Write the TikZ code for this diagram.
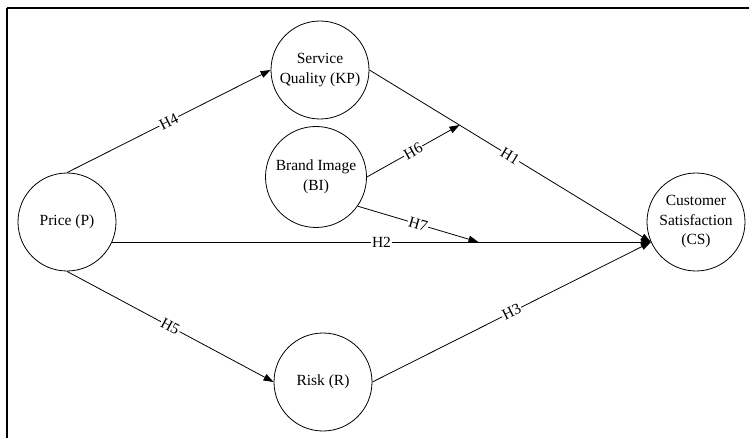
\documentclass[tikz,border=0pt]{standalone}
\usepackage{fontspec}
\setmainfont{Liberation Serif}
\usetikzlibrary{arrows.meta, calc}

\tikzset{
  construct/.style={draw, circle, line width=0.8pt, minimum size=98pt, inner sep=0pt, align=center, font=\fontsize{15.5}{19.5}\selectfont},
  path arrow/.style={line width=0.8pt, -{Triangle[length=10pt,width=7pt]}},
  hyp/.style={midway, sloped, fill=white, inner sep=1pt, font=\fontsize{15.5}{19.5}\selectfont}
}

\begin{document}
\begin{tikzpicture}[x=1pt,y=-1pt]
    \useasboundingbox (0,0) rectangle (749,438); %same size as the reference

    %Frame (top and left edge only)
    \draw [line width=2pt] (7,8) -- (749,8);
    \draw [line width=1.2pt] (7,8) -- (7,438);

    %Shape: Circles
    \node [construct] (P) at (67,222) {Price (P)};
    \node [construct] (KP) at (320,70) {Service\\Quality (KP)};
    \node [construct, minimum size=101pt] (BI) at (316,177) {Brand Image\\(BI)};
    \node [construct] (R) at (323,382) {Risk (R)};
    \node [construct] (CS) at (696,222) {Customer\\Satisfaction\\(CS)};

    %Points where the moderating arrows end
    \coordinate (csin) at (CS.204);
    \coordinate (pout) at (P.336);
    \coordinate (h1mid) at ($(KP.east)!0.32!(csin)$);
    \coordinate (h2mid) at ($(pout)!0.68!(csin)$);

    %Straight Lines
    \draw [path arrow] (P.north) -- (KP.west) node [hyp] {H4};
    \draw [path arrow] (P.south) -- (R.west) node [hyp] {H5};
    \draw [path arrow] (pout) -- (csin) node [hyp] {H2};
    \draw [path arrow] (KP.east) -- (csin) node [hyp] {H1};
    \draw [path arrow] (R.east) -- (csin) node [hyp] {H3};
    \draw [path arrow] (BI.east) -- (h1mid) node [hyp] {H6};
    \draw [path arrow] (BI.325) -- (h2mid) node [hyp] {H7};

\end{tikzpicture}
\end{document}
